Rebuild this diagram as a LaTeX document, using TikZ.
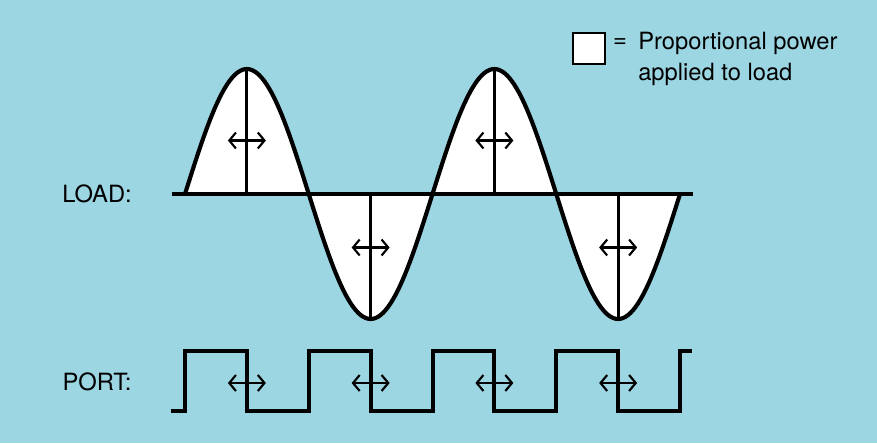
\documentclass[tikz,border=0pt]{standalone}
\usepackage{fontspec}
\setmainfont{TeX Gyre Heros}
\usetikzlibrary{arrows.meta}
\definecolor{panelblue}{RGB}{156,214,227}

\begin{document}
\begin{tikzpicture}[x=0.75pt, y=-0.75pt, font=\fontsize{17.8}{23.25}\selectfont,
  wave/.style={draw=black, line width=3.1pt, line join=round},
  axisline/.style={draw=black, line width=2.5pt},
  peakline/.style={draw=black, line width=2.2pt},
  portwave/.style={draw=black, line width=2.5pt, line join=miter},
  shiftarr/.style={draw=black, line width=1.6pt,
    {Straight Barb[length=5pt, width=12pt]}-{Straight Barb[length=5pt, width=12pt]}},
  lbl/.style={inner sep=0pt},
  keybox/.style={draw=black, line width=1.6pt, fill=white, minimum width=24pt,
    minimum height=23pt, inner sep=0pt}
]
  \useasboundingbox[fill=panelblue] (0,0) rectangle (877,443);
  % load: white half waves
  \fill[white] plot[domain=185:680, samples=201]
    (\x, {194-125*sin((\x-185)/123.75*180)}) -- cycle;
  \coordinate (axl) at (172,194);
  \coordinate (axr) at (693,194);
  \draw[axisline] (axl) -- (axr);
  \draw[wave] plot[domain=185:680, samples=201]
    (\x, {194-125*sin((\x-185)/123.75*180)});
  \foreach \k/\s in {0/1, 1/-1, 2/1, 3/-1} {
    \coordinate (base\k) at ({185+123.75*(\k+0.5)}, 194);
    \coordinate (peak\k) at ({185+123.75*(\k+0.5)}, {194-125*\s});
    \draw[peakline] (base\k) -- (peak\k);
    \coordinate (la\k) at ({185+123.75*(\k+0.5)-19}, {194-53.5*\s});
    \coordinate (ra\k) at ({185+123.75*(\k+0.5)+19}, {194-53.5*\s});
    \draw[shiftarr] (la\k) -- (ra\k);
    % port
    \coordinate (lp\k) at ({185+123.75*(\k+0.5)-19}, 383);
    \coordinate (rp\k) at ({185+123.75*(\k+0.5)+19}, 383);
    \draw[shiftarr] (lp\k) -- (rp\k);
  }
  % port: pulse train
  \draw[portwave] (171,411) -- (185,411) |- (247,351) |- (309,411)
    |- (371,351) |- (433,411) |- (494,351) |- (556,411)
    |- (618,351) |- (680,411) |- (692,351);
  \node[lbl] (loadlbl) at (97,194) {LOAD:};
  \node[lbl] (portlbl) at (97,382) {PORT:};
  % key
  \node[keybox] (key) at (589,48.5) {};
  \node[lbl] (eq) at (620,43) {=};
  \node[lbl, anchor=west, align=left] (keytxt) at (638,59)
    {Proportional power\\applied to load};
\end{tikzpicture}
\end{document}
